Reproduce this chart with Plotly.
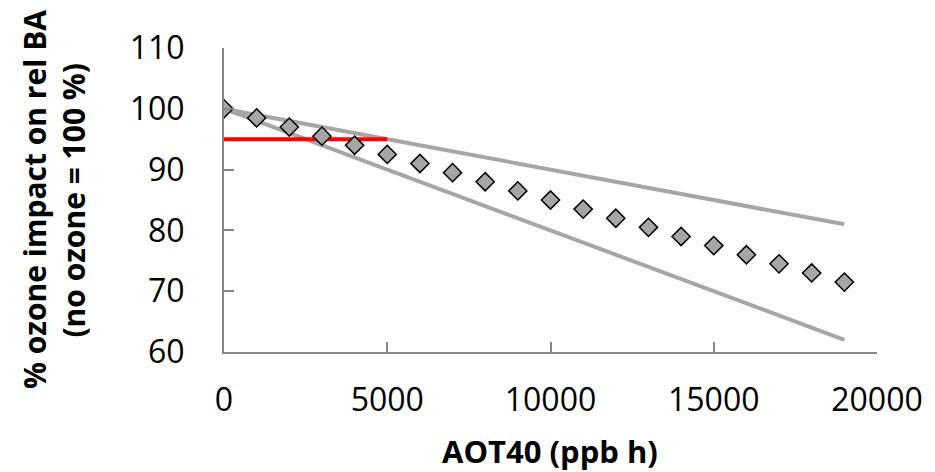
import plotly.graph_objects as go

aot40 = [0, 1000, 2000, 3000, 4000, 5000, 6000, 7000, 8000, 9000,
         10000, 11000, 12000, 13000, 14000, 15000, 16000, 17000, 18000, 19000]
impact = [100, 98.5, 97, 95.5, 94, 92.5, 91, 89.5, 88, 86.5,
          85, 83.5, 82, 80.5, 79, 77.5, 76, 74.5, 73, 71.5]
upper_x = [0, 19000]
upper_y = [100, 81]
lower_x = [0, 19000]
lower_y = [100, 62]
red_x = [0, 5000]
red_y = [95, 95]
x_ticks = [0, 5000, 10000, 15000, 20000]
x_tick_labels = ["0", "5000", "10000", "15000", "20000"]
y_ticks = [60, 70, 80, 90, 100, 110]

FONT = "Open Sans"
fig = go.Figure()
fig.add_trace(go.Scatter(x=upper_x, y=upper_y, mode="lines",
                         line=dict(color="#A6A6A6", width=4), showlegend=False))
fig.add_trace(go.Scatter(x=lower_x, y=lower_y, mode="lines",
                         line=dict(color="#A6A6A6", width=4), showlegend=False))
fig.add_trace(go.Scatter(x=red_x, y=red_y, mode="lines",
                         line=dict(color="#FF0000", width=4), showlegend=False))
fig.add_trace(go.Scatter(x=aot40, y=impact, mode="markers",
                         marker=dict(symbol="diamond", size=14, color="#A6A6A6",
                                     line=dict(color="black", width=1.5)),
                         showlegend=False))

L, R, T, B = 224, 51, 48, 120
W, H = 935, 472
pw, ph = W - L - R, H - T - B


def px(xp):
    return (xp - L) / pw


def py(yp):
    return (H - B - yp) / ph


fig.update_layout(
    width=W, height=H,
    margin=dict(l=L, r=R, t=T, b=B),
    paper_bgcolor="white", plot_bgcolor="white",
    font=dict(family=FONT, size=32, color="black"),
    xaxis=dict(range=[0, 20000], tickvals=x_ticks, ticktext=x_tick_labels,
               ticks="inside", ticklen=10, tickcolor="#868686", tickwidth=2,
               showline=True, linecolor="#868686", linewidth=2,
               showgrid=False, zeroline=False, tickfont=dict(size=32),
               ticklabelstandoff=19),
    yaxis=dict(range=[60, 110], tickvals=y_ticks,
               ticks="inside", ticklen=10, tickcolor="#868686", tickwidth=2,
               showline=True, linecolor="#868686", linewidth=2,
               showgrid=False, zeroline=False, tickfont=dict(size=32),
               ticklabelstandoff=31),
    annotations=[
        dict(text="<b>AOT40 (ppb h)</b>", x=px(553), y=py(451),
             xref="paper", yref="paper", xanchor="center", yanchor="middle",
             showarrow=False, font=dict(size=31)),
        dict(text="<b>% ozone impact on rel BA</b>", textangle=-90,
             x=px(32), y=py(200), xref="paper", yref="paper",
             xanchor="center", yanchor="middle",
             showarrow=False, font=dict(size=30)),
        dict(text="<b>(no ozone = 100 %)</b>", textangle=-90,
             x=px(71), y=py(200), xref="paper", yref="paper",
             xanchor="center", yanchor="middle",
             showarrow=False, font=dict(size=30)),
    ],
)

fig.write_html("out.html")
